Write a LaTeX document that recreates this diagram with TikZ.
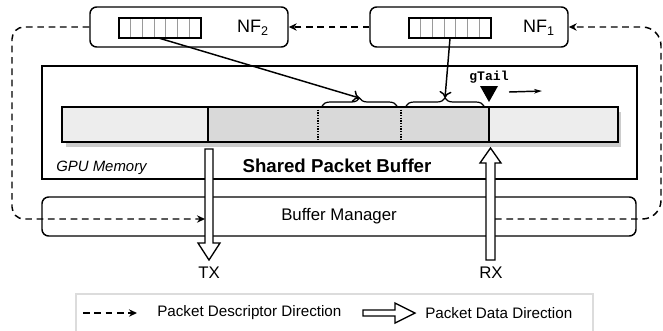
\documentclass[tikz,border=0pt]{standalone}
\usepackage{fontspec}
\setmainfont{Liberation Sans}
\setmonofont{Liberation Mono}
\usetikzlibrary{arrows.meta,decorations.pathreplacing}
\definecolor{PBLight}{HTML}{EDEDED}
\definecolor{PBDark}{HTML}{D9D9D9}
\definecolor{PBShadow}{HTML}{CCCCCC}
\definecolor{PBCell}{HTML}{9A9A9A}
\definecolor{PBLegend}{HTML}{DCDCDC}

\begin{document}
\begin{tikzpicture}[x=0.75pt,y=-0.75pt,
  nfbox/.style={draw,line width=1.1pt,rounded corners=5pt,inner sep=0pt},
  desc/.style={dash pattern=on 5pt off 3.5pt,line width=1.1pt,-{Stealth[length=6pt,width=5.5pt]}},
  ptr/.style={line width=1.1pt,-{To[length=5pt,width=9pt]}},
  hollow/.style={draw,fill=white,line width=1pt},
  txt/.style={font=\fontsize{12.6pt}{15pt}\selectfont,inner sep=0pt},
  legtxt/.style={font=\fontsize{11.4pt}{14pt}\selectfont,inner sep=0pt,anchor=west}]
\path[use as bounding box] (0,0) rectangle (663,330);
% network functions
\node[nfbox,minimum width=148.5pt,minimum height=30pt] (nf2) at (189,27) {};
\node[nfbox,minimum width=148.5pt,minimum height=30pt] (nf1) at (469,27) {};
\node[font=\fontsize{13.5pt}{16pt}\selectfont,inner sep=0pt] (nf2lbl) at (253,28) {NF\textsubscript{2}};
\node[font=\fontsize{13.5pt}{16pt}\selectfont,inner sep=0pt] (nf1lbl) at (539,28) {NF\textsubscript{1}};
\node[minimum width=60.75pt,minimum height=15pt,inner sep=0pt] (q2) at (159.5,28) {};
\node[minimum width=61.5pt,minimum height=15pt,inner sep=0pt] (q1) at (450,28) {};
\foreach \x in {119,409} {
  \foreach \i in {1,...,6}
    \draw[PBCell,line width=0.9pt] (\x+\i*11.7,18) -- (\x+\i*11.7,38);
  \draw[line width=1.3pt] (\x,18) rectangle (\x+82,38);
}
% GPU memory
\node[draw,line width=1.1pt,minimum width=446.25pt,minimum height=84.75pt,inner sep=0pt] (gpu) at (339.5,122.5) {};
\node[anchor=west,inner sep=0pt,font=\itshape\fontsize{11.2pt}{13pt}\selectfont] (gpulbl) at (56,168) {GPU Memory};
\node[inner sep=0pt,font=\bfseries\fontsize{14pt}{16pt}\selectfont] (spb) at (337,166) {Shared Packet Buffer};
% packet buffer
\fill[PBShadow] (66,112) rectangle (621,147);
\fill[PBLight] (62,107) rectangle (208,142);
\fill[PBDark] (208,107) rectangle (489,142);
\fill[PBLight] (489,107) rectangle (618,142);
\draw[line width=1.1pt] (62,107) rectangle (618,142);
\draw[line width=1.1pt] (208,107) -- (208,142);
\draw[line width=1.1pt] (489,107) -- (489,142);
\draw[densely dotted,line width=1pt] (318,107) -- (318,142);
\draw[densely dotted,line width=1pt] (401,107) -- (401,142);
\draw[decorate,decoration={brace,amplitude=6pt},line width=0.9pt] (322,106) -- (397,106) coordinate[midway,yshift=6pt] (br1);
\draw[decorate,decoration={brace,amplitude=6pt},line width=0.9pt] (406,106) -- (484,106) coordinate[midway,yshift=6pt] (br2);
\draw[ptr] (q2.south) -- (br1);
\draw[ptr] (q1.south) -- (br2);
% tail pointer
\fill (480,86) -- (498,86) -- (489,102) -- cycle;
\node[inner sep=0pt,font=\ttfamily\bfseries\fontsize{9.8pt}{11pt}\selectfont] (gtail) at (489,77) {gTail};
\coordinate (mvs) at (509,92);
\coordinate (mve) at (542,91);
\draw[line width=1.1pt,-{Stealth[length=6pt,width=3.5pt]}] (mvs) -- (mve);
% buffer manager
\node[nfbox,txt,minimum width=445.5pt,minimum height=29.25pt] (bm) at (339,216.5) {Buffer Manager};
% data arrows
\filldraw[hollow] (205,149) -- (205,243) -- (198,243) -- (209,260) -- (220,243) -- (213,243) -- (213,149) -- cycle;
\filldraw[hollow] (486,260) -- (486,163) -- (480,163) -- (490.5,148) -- (501,163) -- (495,163) -- (495,260) -- cycle;
\node[txt] (tx) at (209,273) {TX};
\node[txt] (rx) at (491,273) {RX};
% descriptor loop
\coordinate (txl) at (205,219);
\coordinate (rxr) at (495,219);
\draw[desc] (nf1.west) -- (nf2.east);
\draw[desc,rounded corners=9pt] (nf2.west) -- (12,27) -- (12,219) -- (txl);
\draw[desc,rounded corners=14pt] (rxr) -- (661,219) -- (661,27) -- (nf1.east);
% legend
\draw[PBLegend,line width=1.5pt] (76,294) rectangle (593,345);
\coordinate (lga) at (83,313);
\coordinate (lgb) at (137,313);
\draw[desc] (lga) -- (lgb);
\node[legtxt] (lgdesc) at (157,313) {Packet Descriptor Direction};
\filldraw[hollow] (363,310) -- (395,310) -- (395,303) -- (415,313) -- (395,323) -- (395,316) -- (363,316) -- cycle;
\node[legtxt] (lgdata) at (425,313) {Packet Data Direction};
\end{tikzpicture}
\end{document}
